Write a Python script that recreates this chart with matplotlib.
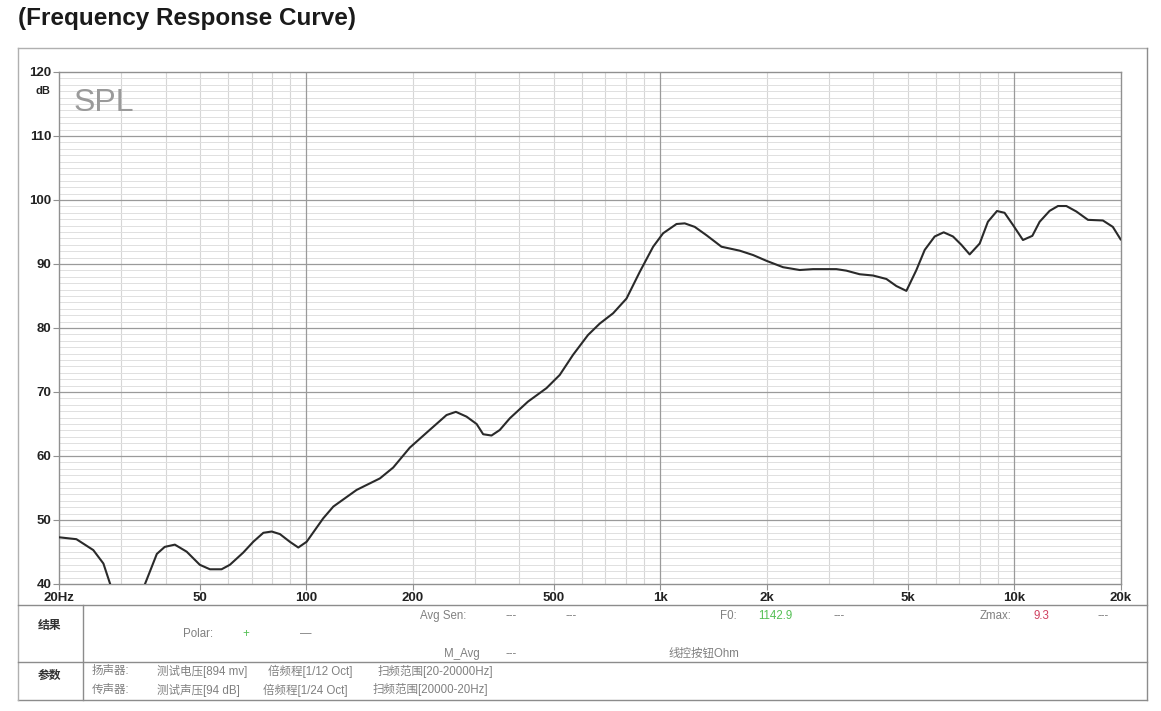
import matplotlib
matplotlib.use("Agg")
import matplotlib.pyplot as plt
from matplotlib.lines import Line2D
from matplotlib.ticker import FixedLocator, NullFormatter

# ---------------- data ----------------
freq = [20, 22.4, 25, 26.7, 27.9, 29.5, 33, 35, 37.8, 39.8, 42.5, 45.9, 50, 53.4, 57.6, 60.8,
        66.3, 70.8, 75.6, 79.8, 84.2, 89.8, 94.9, 100.2, 111.6, 119.2, 138.7, 161.4, 176, 196,
        223, 249, 264.6, 283.6, 302.8, 316, 333.6, 352, 376, 423, 477, 520, 567, 625, 675, 736,
        803, 876, 955, 1019, 1112, 1173, 1252, 1351, 1490, 1678, 1830, 1996, 2224, 2479, 2703,
        3146, 3358, 3662, 3995, 4357, 4648, 4962, 5296, 5591, 5966, 6325, 6720, 7096, 7490,
        7995, 8434, 8947, 9400, 9928, 10594, 11262, 11810, 12600, 13306, 14052, 14998, 16172,
        17824, 19013, 20000]
spl = [47.3, 47.0, 45.3, 43.2, 40.0, 37.0, 37.0, 40.0, 44.7, 45.8, 46.15, 45.05, 43.0, 42.3,
       42.3, 43.0, 44.9, 46.6, 48.0, 48.2, 47.8, 46.6, 45.7, 46.6, 50.26, 52.1, 54.7, 56.5,
       58.2, 61.3, 64.06, 66.4, 66.9, 66.15, 65.0, 63.4, 63.2, 64.06, 65.9, 68.5, 70.6, 72.66,
       75.8, 78.9, 80.7, 82.3, 84.6, 88.8, 92.7, 94.8, 96.25, 96.35, 95.8, 94.5, 92.7, 92.08,
       91.4, 90.5, 89.5, 89.06, 89.2, 89.2, 88.96, 88.4, 88.2, 87.66, 86.56, 85.8, 89.06, 92.2,
       94.3, 94.95, 94.3, 93.0, 91.5, 93.2, 96.6, 98.28, 98.0, 96.1, 93.75, 94.4, 96.6, 98.3,
       99.06, 99.06, 98.2, 96.9, 96.8, 95.8, 93.85]

xtick_vals = [20, 50, 100, 200, 500, 1000, 2000, 5000, 10000, 20000]
xtick_labels = ["20Hz", "50", "100", "200", "500", "1k", "2k", "5k", "10k", "20k"]
ytick_vals = [40, 50, 60, 70, 80, 90, 100, 110, 120]

title_text = "(Frequency Response Curve)"
result_label = "结果"
param_label = "参数"

W, H = 1161, 711
fig = plt.figure(figsize=(W / 100, H / 100), dpi=100)
fig.patch.set_facecolor("white")

LAT = ["Liberation Sans", "Noto Sans CJK SC", "DejaVu Sans"]
CJK = ["Noto Sans CJK SC", "Liberation Sans", "DejaVu Sans"]


def fx(x):
    return x / W


def fy(y):
    return 1 - y / H


# axes placement
ax_l, ax_r, ax_t, ax_b = 59, 1120.6, 72, 584
ax = fig.add_axes([fx(ax_l), fy(ax_b), fx(ax_r - ax_l), (ax_b - ax_t) / H])
ax.set_xscale("log")
ax.set_xlim(20, 20000)
ax.set_ylim(40, 120)

# grid
minor_x = []
for dec in [10, 100, 1000, 10000]:
    for m in range(2, 10):
        v = m * dec
        if 20 < v < 20000:
            minor_x.append(v)
for v in minor_x:
    ax.axvline(v, color="#d6d6d6", lw=0.8, zorder=1)
for v in [100, 1000, 10000]:
    ax.axvline(v, color="#9a9a9a", lw=0.9, zorder=1.5)
for v in range(41, 120):
    if v % 10:
        ax.axhline(v, color="#e0e0e0", lw=0.7, zorder=1)
for v in ytick_vals[1:-1]:
    ax.axhline(v, color="#9a9a9a", lw=0.9, zorder=1.5)

ax.plot(freq, spl, color="#2a2a2a", lw=1.5, zorder=3, solid_joinstyle="round")

for s in ax.spines.values():
    s.set_color("#909090")
    s.set_linewidth(1.0)

ax.xaxis.set_major_locator(FixedLocator(xtick_vals))
ax.set_xticklabels(xtick_labels)
ax.xaxis.set_minor_locator(FixedLocator([]))
ax.xaxis.set_minor_formatter(NullFormatter())
ax.set_yticks(ytick_vals)
ax.set_yticklabels([str(v) for v in ytick_vals])
ax.tick_params(axis="both", which="major", length=4, width=0.8, color="#909090",
               direction="out", labelsize=9.5, pad=1.5)
for lab in ax.get_xticklabels() + ax.get_yticklabels():
    lab.set_fontweight("bold")
    lab.set_family(LAT)
    lab.set_color("#222222")

ax.text(-0.008, 0.972, "dB", transform=ax.transAxes, ha="right", va="top",
        fontsize=8, fontweight="bold", family=LAT, color="#222222")
ax.text(0.014, 0.968, "SPL", transform=ax.transAxes, ha="left", va="top",
        fontsize=23, family=LAT, color="#9a9a9a")

# title
fig.text(fx(18), fy(18), title_text, ha="left", va="center", fontsize=17.5,
         fontweight="bold", family=LAT, color="#1a1a1a")

# outer frame and table lines
fc = "#8c8c8c"
fl, fr, ft, fb = 18, 1147, 48, 700


def hline(y, x0, x1, c=fc, lw=1.0):
    fig.add_artist(Line2D([fx(x0), fx(x1)], [fy(y), fy(y)], color=c, lw=lw,
                          transform=fig.transFigure))


def vline(x, y0, y1, c=fc, lw=1.0):
    fig.add_artist(Line2D([fx(x), fx(x)], [fy(y0), fy(y1)], color=c, lw=lw,
                          transform=fig.transFigure))


hline(ft, fl, fr, c="#b0b0b0")
hline(fb, fl, fr)
vline(fl, ft, fb, c="#b0b0b0")
vline(fr, ft, fb)
hline(605, fl, fr)
hline(662, fl, fr)
vline(83, 605, fb)

# table text
fig.text(fx(50), fy(625), result_label, ha="center", va="center", fontsize=8.5,
         fontweight="bold", family=CJK, color="#333333")
fig.text(fx(50), fy(675), param_label, ha="center", va="center", fontsize=8.5,
         fontweight="bold", family=CJK, color="#333333")

gray = "#808080"
small = 8.3
items = [
    (420, 616, "Avg Sen:", gray),
    (505, 616, "---", gray),
    (566, 616, "---", gray),
    (720, 616, "F0:", gray),
    (758, 616, "1142.9", "#55c055"),
    (833, 616, "---", gray),
    (980, 616, "Zmax:", gray),
    (1034, 616, "9.3", "#d04060"),
    (1098, 616, "---", gray),
    (183, 634, "Polar:", gray),
    (242, 634, "+", "#55c055"),
    (300, 634, "—", gray),
    (444, 654, "M_Avg", gray),
    (505, 654, "---", gray),
    (668, 654, "线控按钮Ohm", gray),
    (92, 671, "扬声器:", gray),
    (157, 671, "测试电压[894 mv]", gray),
    (268, 671, "倍频程[1/12 Oct]", gray),
    (378, 671, "扫频范围[20-20000Hz]", gray),
    (92, 690, "传声器:", gray),
    (157, 690, "测试声压[94 dB]", gray),
    (263, 690, "倍频程[1/24 Oct]", gray),
    (373, 690, "扫频范围[20000-20Hz]", gray),
]
for x, y, s, c in items:
    fig.text(fx(x), fy(y), s, ha="left", va="center", fontsize=small, family=LAT, color=c)

fig.savefig("out.png", dpi=100, facecolor="white")
